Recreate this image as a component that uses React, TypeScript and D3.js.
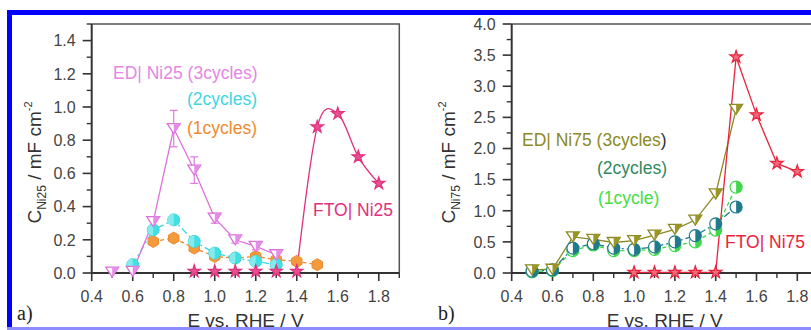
import React from "react";
import * as d3 from "d3";

// potentials (V vs RHE) and capacitances
const ni25Cycle3X = [0.5, 0.6, 0.7, 0.8, 0.9, 1.0, 1.1, 1.2, 1.3];
const ni25Cycle3Y = [0.005, 0.01, 0.31, 0.87, 0.62, 0.33, 0.2, 0.16, 0.11];
const ni25Cycle3Err = [0, 0, 0.03, 0.11, 0.08, 0.03, 0.02, 0.02, 0.02];
const ni25Cycle2X = [0.6, 0.7, 0.8, 0.9, 1.0, 1.1, 1.2, 1.3];
const ni25Cycle2Y = [0.05, 0.26, 0.32, 0.19, 0.12, 0.09, 0.07, 0.05];
const ni25Cycle1X = [0.7, 0.8, 0.9, 1.0, 1.1, 1.2, 1.3, 1.4, 1.5];
const ni25Cycle1Y = [0.19, 0.21, 0.15, 0.1, 0.09, 0.1, 0.08, 0.07, 0.05];
const ni25FtoX = [0.9, 1.0, 1.1, 1.2, 1.3, 1.4, 1.5, 1.6, 1.7, 1.8];
const ni25FtoY = [0.01, 0.01, 0.01, 0.01, 0.01, 0.01, 0.88, 0.96, 0.7, 0.54];

const ni75X = [0.5, 0.6, 0.7, 0.8, 0.9, 1.0, 1.1, 1.2, 1.3, 1.4, 1.5];
const ni75Cycle3Y = [0.05, 0.06, 0.58, 0.54, 0.49, 0.52, 0.61, 0.7, 0.85, 1.27, 2.63];
const ni75Cycle2Y = [0.03, 0.05, 0.4, 0.47, 0.4, 0.38, 0.42, 0.5, 0.6, 0.79, 1.06];
const ni75Cycle1Y = [0.02, 0.04, 0.36, 0.45, 0.36, 0.36, 0.38, 0.44, 0.5, 0.69, 1.38];
const ni75FtoX = [1.0, 1.1, 1.2, 1.3, 1.4, 1.5, 1.6, 1.7, 1.8];
const ni75FtoY = [0.01, 0.01, 0.01, 0.01, 0.01, 3.47, 2.54, 1.76, 1.63];

const xTicks = [0.4, 0.6, 0.8, 1.0, 1.2, 1.4, 1.6, 1.8];
const xMinor = [0.5, 0.7, 0.9, 1.1, 1.3, 1.5, 1.7, 1.9];
const ni25YTicks = [0, 0.2, 0.4, 0.6, 0.8, 1.0, 1.2, 1.4];
const ni25YMinor = [0.1, 0.3, 0.5, 0.7, 0.9, 1.1, 1.3, 1.5];
const ni75YTicks = [0, 0.5, 1.0, 1.5, 2.0, 2.5, 3.0, 3.5, 4.0];
const ni75YMinor = [0.25, 0.75, 1.25, 1.75, 2.25, 2.75, 3.25, 3.75];

const SANS = "'Liberation Sans', Arial, sans-serif";
const SERIF = "'Liberation Serif', 'Times New Roman', serif";

const zip = (xs: number[], ys: number[]) => xs.map((x, i) => [x, ys[i]] as [number, number]);

type Marker = "tri" | "circle" | "half" | "hex" | "star";

type Series = {
  pts: [number, number][];
  color: string;
  fill: string;
  marker: Marker;
  dash?: string;
  curve?: d3.CurveFactory;
  lineFrom?: number;
  err?: number[];
};

type Label = { text: string; x: number; y: number; color: string; tail?: string; tailColor?: string };

function MarkerShape({ kind, cx, cy, color, fill }: { kind: Marker; cx: number; cy: number; color: string; fill: string }) {
  if (kind === "star") {
    const d = d3.symbol(d3.symbolStar, 48)() || "";
    return <path d={d} transform={`translate(${cx},${cy})`} fill={fill} stroke={color} strokeWidth={1.2} />;
  }
  if (kind === "tri") {
    const w = 6.5, h = 10;
    return (
      <g transform={`translate(${cx},${cy})`}>
        <path d={`M${-w},${-h / 2}L${w},${-h / 2}L0,${h / 2}Z`} fill="#fff" stroke={color} strokeWidth={1.3} />
        <path d={`M0,${-h / 2}L${w},${-h / 2}L0,${h / 2}Z`} fill={fill} />
      </g>
    );
  }
  if (kind === "hex") {
    const r = 6;
    const d = d3.range(6).map((i) => {
      const a = (Math.PI / 3) * i + Math.PI / 6;
      return `${i ? "L" : "M"}${r * Math.cos(a)},${r * Math.sin(a)}`;
    }).join("") + "Z";
    return <path d={d} transform={`translate(${cx},${cy})`} fill={fill} stroke={color} strokeWidth={1} />;
  }
  if (kind === "half") {
    const r = 6;
    return (
      <g transform={`translate(${cx},${cy})`}>
        <circle r={r} fill="#fff" stroke={color} strokeWidth={1.2} />
        <path d={`M0,${-r}A${r},${r} 0 0 1 0,${r}Z`} fill={fill} />
      </g>
    );
  }
  return (
    <g transform={`translate(${cx},${cy})`}>
      <circle r={6} fill={fill} stroke={color} strokeWidth={1} />
      <path d={`M0,-6A6,6 0 0 0 0,6Z`} fill="#fff" opacity={0.35} />
    </g>
  );
}

function Panel(props: {
  x0: number;
  x1: number;
  yMax: number;
  yTicks: number[];
  yMinor: number[];
  sub: string;
  titleX: number;
  tag: string;
  tagX: number;
  series: Series[];
  labels: Label[];
}) {
  const top = 24;
  const bottom = 273;
  const x = d3.scaleLinear().domain([0.4, 1.9]).range([props.x0, props.x1]);
  const y = d3.scaleLinear().domain([0, props.yMax]).range([bottom, top]);
  const fmt = d3.format(".1f");
  const axis = "#333";
  const tickCol = "#444";
  const midX = (props.x0 + props.x1) / 2;

  return (
    <g>
      {/* frame */}
      <path d={`M${props.x0},${top}H${props.x1}V${bottom}`} fill="none" stroke="#555" strokeWidth={1.5} />
      <line x1={props.x0} x2={props.x1} y1={bottom} y2={bottom} stroke={axis} strokeWidth={2} />
      <line x1={props.x0} x2={props.x0} y1={top} y2={bottom} stroke={axis} strokeWidth={2} />

      {xTicks.map((t) => (
        <g key={"xt" + t}>
          <line x1={x(t)} x2={x(t)} y1={bottom} y2={bottom + 8} stroke={axis} strokeWidth={1.6} />
          <text x={x(t)} y={bottom + 29} textAnchor="middle" fontFamily={SANS} fontSize={16} fill={tickCol}>
            {fmt(t)}
          </text>
        </g>
      ))}
      {xMinor.map((t) => (
        <line key={"xm" + t} x1={x(t)} x2={x(t)} y1={bottom} y2={bottom + 5} stroke={axis} strokeWidth={1.4} />
      ))}
      {props.yTicks.map((t) => (
        <g key={"yt" + t}>
          <line x1={props.x0 - 9} x2={props.x0} y1={y(t)} y2={y(t)} stroke={axis} strokeWidth={1.6} />
          <text x={props.x0 - 16} y={y(t)} dy="0.36em" textAnchor="end" fontFamily={SANS} fontSize={16} fill={tickCol}>
            {fmt(t)}
          </text>
        </g>
      ))}
      {props.yMinor.map((t) => (
        <line key={"ym" + t} x1={props.x0 - 5} x2={props.x0} y1={y(t)} y2={y(t)} stroke={axis} strokeWidth={1.4} />
      ))}

      {/* series lines */}
      {props.series.map((s, i) => {
        const line = d3
          .line<[number, number]>()
          .x((d) => x(d[0]))
          .y((d) => y(d[1]))
          .curve(s.curve || d3.curveLinear);
        const pts = s.lineFrom !== undefined ? s.pts.filter((p) => p[0] >= s.lineFrom! - 1e-9) : s.pts;
        return (
          <path key={"l" + i} d={line(pts) || ""} fill="none" stroke={s.color} strokeWidth={1.3} strokeDasharray={s.dash} />
        );
      })}
      {/* error bars */}
      {props.series.map((s, i) =>
        s.err
          ? s.pts.map((p, j) =>
              s.err![j] > 0 ? (
                <g key={`e${i}-${j}`} stroke={s.color} strokeWidth={1.1}>
                  <line x1={x(p[0])} x2={x(p[0])} y1={y(p[1] - s.err![j])} y2={y(p[1] + s.err![j])} />
                  <line x1={x(p[0]) - 4} x2={x(p[0]) + 4} y1={y(p[1] + s.err![j])} y2={y(p[1] + s.err![j])} />
                  <line x1={x(p[0]) - 4} x2={x(p[0]) + 4} y1={y(p[1] - s.err![j])} y2={y(p[1] - s.err![j])} />
                </g>
              ) : null
            )
          : null
      )}
      {/* markers */}
      {props.series.map((s, i) =>
        s.pts.map((p, j) => (
          <MarkerShape key={`m${i}-${j}`} kind={s.marker} cx={x(p[0])} cy={y(p[1])} color={s.color} fill={s.fill} />
        ))
      )}

      {props.labels.map((l, i) => (
        <text key={"lb" + i} x={l.x} y={l.y} fontFamily={SANS} fontSize={17.5} fill={l.color}>
          {l.text}
          {l.tail ? <tspan fill={l.tailColor}>{l.tail}</tspan> : null}
        </text>
      ))}

      {/* axis titles */}
      <text x={midX} y={327} textAnchor="middle" fontFamily={SANS} fontSize={19} fill="#333">
        E vs. RHE / V
      </text>
      <text
        transform={`translate(${props.titleX},${(top + bottom) / 2 + 14}) rotate(-90)`}
        textAnchor="middle"
        fontFamily={SANS}
        fontSize={19}
        fill="#333"
      >
        C
        <tspan fontSize={12} dy={5}>{props.sub}</tspan>
        <tspan dy={-5}> / mF cm</tspan>
        <tspan fontSize={11} dy={-9}>-2</tspan>
      </text>
      <text x={props.tagX} y={320} fontFamily={SERIF} fontSize={20} fill="#222">
        {props.tag}
      </text>
    </g>
  );
}

export default function App() {
  const ni25Series: Series[] = [
    { pts: zip(ni25Cycle1X, ni25Cycle1Y), color: "#ee8a2e", fill: "#f39a3c", marker: "hex", dash: "4,3" },
    { pts: zip(ni25Cycle2X, ni25Cycle2Y), color: "#3cd6dc", fill: "#42e0e4", marker: "circle", dash: "7,3,2,3" },
    { pts: zip(ni25Cycle3X, ni25Cycle3Y), color: "#dd6fdd", fill: "#e58ee5", marker: "tri", err: ni25Cycle3Err, lineFrom: 0.6 },
    { pts: zip(ni25FtoX, ni25FtoY), color: "#e0307e", fill: "#e8508f", marker: "star", curve: d3.curveCardinal, lineFrom: 1.4 },
  ];
  const ni75Series: Series[] = [
    { pts: zip(ni75X, ni75Cycle1Y), color: "#3ed84a", fill: "#3ed84a", marker: "half", dash: "4,3" },
    { pts: zip(ni75X, ni75Cycle2Y), color: "#1f7a8c", fill: "#1f7a8c", marker: "half", dash: "7,3,2,3" },
    { pts: zip(ni75X, ni75Cycle3Y), color: "#8c8a22", fill: "#9a9626", marker: "tri" },
    { pts: zip(ni75FtoX, ni75FtoY), color: "#e8233c", fill: "#f26a7c", marker: "star" },
  ];

  return (
    <svg
      width={811}
      height={330}
      viewBox="0 0 811 330"
      style={{ position: "absolute", left: 0, top: 0, background: "#fff" }}
    >
      <Panel
        x0={91.7}
        x1={399.3}
        yMax={1.5}
        yTicks={ni25YTicks}
        yMinor={ni25YMinor}
        sub="Ni25"
        titleX={41}
        tag="a)"
        tagX={17}
        series={ni25Series}
        labels={[
          { text: "ED| Ni25 (3cycles)", x: 113, y: 79, color: "#e586e5" },
          { text: "(2cycles)", x: 187, y: 105, color: "#3fd6e0" },
          { text: "(1cycles)", x: 187, y: 134, color: "#ef8a30" },
          { text: "FTO| Ni25", x: 313, y: 216, color: "#e0307e" },
        ]}
      />
      <Panel
        x0={511.7}
        x1={817.7}
        yMax={4.0}
        yTicks={ni75YTicks}
        yMinor={ni75YMinor}
        sub="Ni75"
        titleX={455}
        tag="b)"
        tagX={438}
        series={ni75Series}
        labels={[
          { text: "ED| Ni75 (3cycles", x: 522, y: 146, color: "#8c8a22", tail: ")", tailColor: "#333" },
          { text: "(2cycles)", x: 597, y: 174, color: "#2f8a5e" },
          { text: "(1cycle)", x: 598, y: 204, color: "#44dd44" },
          { text: "FTO| Ni75", x: 725, y: 248, color: "#e8233c" },
        ]}
      />
      {/* blue frame */}
      <rect x={7} y={10} width={804} height={5} fill="#0000ff" />
      <rect x={7} y={10} width={5} height={320} fill="#0000ff" />
      <rect x={7} y={327} width={804} height={3} fill="#8c8cff" />
    </svg>
  );
}
